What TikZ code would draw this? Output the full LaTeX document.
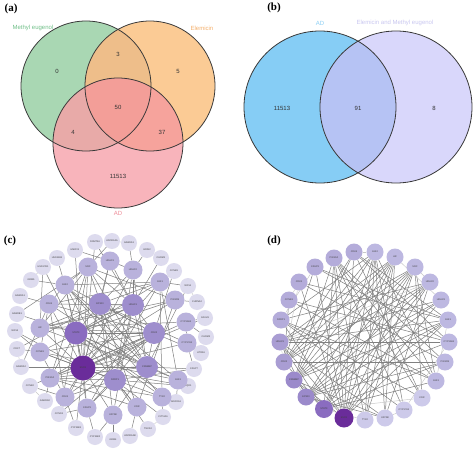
\documentclass[tikz,border=0pt]{standalone}
\usepackage{fontspec}
\newfontfamily\lab{Liberation Sans}
\newfontfamily\pan{Liberation Serif}
\usetikzlibrary{backgrounds}
\pgfdeclarelayer{bottom}
\pgfsetlayers{bottom,background,main}
\definecolor{rG}{HTML}{A9D7B3}
\definecolor{rO}{HTML}{FBCB95}
\definecolor{rP}{HTML}{F8B4BB}
\definecolor{rGO}{HTML}{EEBE8A}
\definecolor{rGP}{HTML}{E8AAA8}
\definecolor{rOP}{HTML}{F6A39C}
\definecolor{rGOP}{HTML}{F39E98}
\definecolor{vb}{HTML}{86CDF5}
\definecolor{vl}{HTML}{D9D7FB}
\definecolor{vbl}{HTML}{B6C3F4}
\definecolor{tg}{HTML}{72C08A}
\definecolor{to}{HTML}{F4B06C}
\definecolor{tp}{HTML}{EE8C98}
\definecolor{tb}{HTML}{8CCFF5}
\definecolor{tl}{HTML}{C9C7F0}
\definecolor{nOut}{HTML}{DDDBEE}
\definecolor{nIn}{HTML}{B9B2DC}
\definecolor{nCore}{HTML}{9E8ECD}
\definecolor{nStat}{HTML}{8A6CC0}
\definecolor{nEsr}{HTML}{6A2C9A}
\definecolor{dA}{HTML}{B4ACDA}
\definecolor{dB}{HTML}{BDB8E1}
\definecolor{dC}{HTML}{CDCAEA}
\definecolor{dD}{HTML}{A99DD3}
\definecolor{dE}{HTML}{9B8ACB}
\tikzset{
  panlab/.style={font=\pan\bfseries\fontsize{11}{11}\selectfont, inner sep=0pt},
  vnum/.style={font=\lab\fontsize{6}{6}\selectfont, text=black!80, inner sep=0pt},
  vtxt/.style={font=\lab\fontsize{6}{6}\selectfont, inner sep=0pt},
  vline/.style={draw=black!78, line width=0.8pt},
  gene/.style={circle, inner sep=0pt, font=\lab\fontsize{2.4}{2.4}\selectfont, text=black!75},
  gOut/.style={gene, fill=nOut, minimum size=16pt},
  gIn/.style={gene, fill=nIn, minimum size=19pt},
  gCore/.style={gene, fill=nCore, minimum size=22pt},
  ed/.style={draw=black!50, line width=0.5pt},
  edl/.style={draw=black!22, line width=0.45pt},
}
\begin{document}
\begin{tikzpicture}[x=1pt,y=-1pt]
\useasboundingbox (0,0) rectangle (474,452);
\begin{pgfonlayer}{bottom}
\fill[white] (0,0) rectangle (474,452);
\end{pgfonlayer}

% ---------------- (a) ----------------
\node[panlab] (la) at (11,9) {(a)};
\def\cG{(86,86) circle[radius=65pt]}
\def\cO{(150,86) circle[radius=65pt]}
\def\cP{(118,143) circle[radius=65pt]}
\fill[rG] \cG;
\fill[rO] \cO;
\fill[rP] \cP;
\begin{scope}\clip \cG; \fill[rGO] \cO; \end{scope}
\begin{scope}\clip \cG; \fill[rGP] \cP; \end{scope}
\begin{scope}\clip \cO; \fill[rOP] \cP; \end{scope}
\begin{scope}\clip \cG; \clip \cO; \fill[rGOP] \cP; \end{scope}
\draw[vline] \cG;
\draw[vline] \cO;
\draw[vline] \cP;
\node[vtxt, text=tg] (tme) at (33,28) {Methyl eugenol};
\node[vtxt, text=to] (tel) at (202,28) {Elemicin};
\node[vtxt, text=tp] (tad) at (118,213) {AD};
\node[vnum] (n0) at (57,71) {0};
\node[vnum] (n3) at (118,54) {3};
\node[vnum] (n5) at (178,71) {5};
\node[vnum] (n50) at (118,107) {50};
\node[vnum] (n4) at (73,132) {4};
\node[vnum] (n37) at (162,132) {37};
\node[vnum] (n11513) at (118,176) {11513};

% ---------------- (b) ----------------
\node[panlab] (lb) at (274,8) {(b)};
\fill[vb] (320,107) circle[radius=76pt];
\fill[vl] (396,107) circle[radius=76pt];
\begin{scope}
  \clip (320,107) circle[radius=76pt];
  \fill[vbl] (396,107) circle[radius=76pt];
\end{scope}
\draw[vline] (320,107) circle[radius=76pt];
\draw[vline] (396,107) circle[radius=76pt];
\node[vtxt, text=tb] (tbad) at (320,23) {AD};
\node[vtxt, text=tl] (tbem) at (395,23) {Elemicin and Methyl eugenol};
\node[vnum] (m1) at (282,108) {11513};
\node[vnum] (m2) at (358,108) {91};
\node[vnum] (m3) at (434,108) {8};

% ---------------- (c) ----------------
\node[panlab] (lc) at (10,241) {(c)};
\foreach \n/\x/\y in {HSD11B1/57/258, HMOX1/75/250, DNMT3A/95/242, ADORA2A/112/241,
  GABRA3/129/243, GRIN2/147/250, CHRM1/161/258, CCNB1/174/271, NOS1/188/286,
  CHRNA2/197/302, CALM1/205/318, CHRM3/206/337, HTR2A/201/353, CASP7/194/369,
  NQO1/188/386, ADORA1/176/402, CYP2A6/163/417, TNKS2/148/429, ADORA2B/130/436,
  GRM4/113/440, CYP11B2/95/437, CYP11B1/76/428, CCND1/59/414, GABRG2/45/401,
  CCNE2/30/386, GABRA2/21/367, CDC7/17/349, NOS3/15/331, GABRB1/17/314,
  GABRA1/20/296, GRM5/31/280, HSD17B1/43/267}
  \node[gOut] (c\n) at (\x,\y) {\n};
\foreach \n/\x/\y in {SRC/88/267, HDAC3/110/261, HDAC2/133/270, JAK1/160/282,
  PIK3CB/175/300, CYP19A1/186/322, CYP17A1/187/343, JAK3/178/380, TYK2/162/397,
  KDR/137/407, KAT2B/113/415, CASP3/87/408, CDK1/65/397, PIK3CA/50/378,
  CCNE1/40/352, AR/40/328, CDK4/49/304, JAK2/65/285}
  \node[gIn] (c\n) at (\x,\y) {\n};
\foreach \n/\x/\y in {EP300/100/304, HDAC1/133/305, CDK2/154/333, CREBBP/147/367,
  PARP1/115/380}
  \node[gCore] (c\n) at (\x,\y) {\n};
\node[gCore, fill=nStat, minimum size=23pt] (cSTAT3) at (76,333) {STAT3};
\node[gCore, fill=nEsr, minimum size=25pt] (cESR1) at (83,368) {ESR1};

\begin{pgfonlayer}{background}
\foreach \a/\b in {ESR1/STAT3, ESR1/EP300, ESR1/HDAC1, ESR1/CDK2, ESR1/CREBBP,
  ESR1/PARP1, ESR1/JAK2, ESR1/SRC, ESR1/AR, ESR1/CCNE1, ESR1/PIK3CA, ESR1/CDK1,
  ESR1/CASP3, ESR1/KAT2B, ESR1/CYP19A1, ESR1/CYP17A1, ESR1/HDAC2, ESR1/HDAC3,
  ESR1/CDK4, ESR1/JAK1, ESR1/CCND1, ESR1/NOS3, ESR1/NQO1, ESR1/HMOX1, ESR1/CYP11B1,
  ESR1/CALM1, ESR1/DNMT3A, ESR1/TYK2,
  STAT3/EP300, STAT3/HDAC1, STAT3/CDK2, STAT3/CREBBP, STAT3/JAK1, STAT3/JAK2,
  STAT3/JAK3, STAT3/TYK2, STAT3/SRC, STAT3/PIK3CA, STAT3/PIK3CB, STAT3/KDR,
  STAT3/CCND1, STAT3/HSD17B1, STAT3/CASP3, STAT3/ADORA1, STAT3/GABRB1,
  EP300/HDAC1, EP300/CREBBP, EP300/HDAC2, EP300/HDAC3, EP300/KAT2B, EP300/AR,
  EP300/CDK2, EP300/PARP1, EP300/JAK1, EP300/CDC7, EP300/CYP17A1,
  HDAC1/HDAC2, HDAC1/HDAC3, HDAC1/CREBBP, HDAC1/CDK2, HDAC1/SRC, HDAC1/AR,
  HDAC1/CDK4, HDAC1/DNMT3A, HDAC1/PARP1, HDAC1/KAT2B, HDAC1/CCNE1, HDAC1/CHRM1,
  CDK2/CCNE1, CDK2/CDK1, CDK2/CDK4, CDK2/CCND1, CDK2/CCNE2, CDK2/CASP3,
  CDK2/CCNB1, CDK2/CREBBP, CDK2/PIK3CA, CDK2/JAK2, CDK2/HTR2A, CDK2/AR,
  CREBBP/KAT2B, CREBBP/HDAC2, CREBBP/JAK2, CREBBP/PIK3CA, CREBBP/AR, CREBBP/SRC,
  CREBBP/CASP7, CREBBP/JAK3, CREBBP/CDK4, CREBBP/NOS1, CREBBP/GABRA2,
  PARP1/CASP3, PARP1/CASP7, PARP1/CDK1, PARP1/JAK2, PARP1/KDR, PARP1/NQO1,
  PARP1/PIK3CA, PARP1/CYP2A6, PARP1/TNKS2, PARP1/HDAC2, PARP1/CCNE1,
  JAK2/GRM5, SRC/ADORA2A, SRC/GABRB1, CDK4/GABRA2, AR/HSD17B1, PIK3CA/GABRG2,
  CDK1/CYP11B1, CASP3/CYP11B2, KAT2B/GRM4, KDR/ADORA2B, TYK2/CYP2A6,
  JAK3/ADORA1, JAK3/NQO1, CYP17A1/HTR2A, CYP19A1/CHRM3, PIK3CB/CHRNA2,
  JAK1/NOS1, HDAC2/GABRA3, HDAC3/HMOX1, CCNE1/CDC7, CCNE1/NOS3, CDK1/CCND1,
  CASP3/CCND1, JAK2/HSD11B1, HDAC2/GRIN2, CYP19A1/CALM1, CYP17A1/CASP7,
  JAK1/CCNB1, CDK4/GABRA1, CCNE2/CDK1, CYP11B2/KAT2B,
  JAK2/JAK1, JAK2/JAK3, JAK2/TYK2, JAK1/JAK3, JAK1/TYK2, SRC/PIK3CA, SRC/PIK3CB,
  SRC/KDR, PIK3CA/PIK3CB, PIK3CA/KDR, CDK4/CCNE1, CDK1/CCNE1, CDK4/CDK1, AR/SRC,
  AR/PIK3CB, HDAC2/HDAC3, CYP19A1/CYP17A1, CYP19A1/AR, CASP3/JAK1, KDR/PIK3CB,
  TYK2/PIK3CA, CDK4/JAK1, CCNE1/JAK3, JAK2/CDK4, SRC/JAK2}
  \draw[ed] (c\a) -- (c\b);
\foreach \a/\b in {NOS1/CHRNA2, GRIN2/CHRM1, CDC7/GABRA2, ADORA2A/GABRA3,
  CCNB1/JAK1, HSD17B1/GRM5, CYP2A6/TNKS2, GABRG2/CCNE2, CHRM3/HTR2A}
  \draw[edl] (c\a) -- (c\b);
\end{pgfonlayer}

% ---------------- (d) ----------------
\node[panlab] (ld) at (274,241) {(d)};
\foreach \n/\x/\y/\c in {PIK3CA/334/258/dA, CDK4/354/252/dA, JAK2/375/252/dB,
  AR/395/257/dB, SRC/415/267/dB, HDAC2/430/282/dB, HDAC3/441/300/dB,
  JAK1/448/320/dB, CYP19A1/449/342/dB, PIK3CB/445/362/dB, JAK3/436/381/dB,
  KDR/422/398/dC, CYP17A1/404/410/dC, KAT2B/385/418/dC, TYK2/365/420/dC,
  EP300/306/397/dE, CREBBP/294/380/dE, CDK2/284/362/dD,
  HDAC1/280/342/dD, PARP1/281/320/dA, CCNE1/289/300/dA, CDK1/299/282/dA,
  CASP3/315/267/dA}
  \node[gene, fill=\c, minimum size=17pt] (d\n) at (\x,\y) {\n};
\node[gene, fill=nStat, minimum size=18pt] (dSTAT3) at (324,409) {STAT3};
\node[gene, fill=nEsr, minimum size=19pt] (dESR1) at (344,418) {ESR1};

\begin{pgfonlayer}{background}
\foreach \a/\b in {ESR1/PIK3CA, ESR1/JAK2, ESR1/SRC, ESR1/HDAC2, ESR1/HDAC3,
  ESR1/CDK4, ESR1/AR, ESR1/CREBBP, ESR1/HDAC1, ESR1/CDK1, ESR1/CASP3, ESR1/PARP1,
  ESR1/JAK1,
  STAT3/JAK2, STAT3/JAK1, STAT3/JAK3, STAT3/SRC, STAT3/HDAC1,
  STAT3/CREBBP, STAT3/PIK3CA, STAT3/AR, STAT3/HDAC2, STAT3/CDK2, STAT3/PIK3CB,
  EP300/HDAC1, EP300/HDAC2, EP300/HDAC3, EP300/KAT2B, EP300/AR, EP300/JAK1,
  EP300/SRC, EP300/CYP19A1, EP300/PIK3CB,
  CREBBP/HDAC2, CREBBP/HDAC3, CREBBP/KAT2B, CREBBP/JAK2, CREBBP/AR, CREBBP/CDK4,
  CREBBP/PIK3CA, CREBBP/SRC, CREBBP/JAK1,
  CDK2/CCNE1, CDK2/CDK4, CDK2/CASP3, CDK2/HDAC2, CDK2/JAK2, CDK2/SRC,
  CDK2/PIK3CB, CDK2/AR,
  HDAC1/HDAC3, HDAC1/SRC, HDAC1/AR, HDAC1/JAK1, HDAC1/CYP19A1, HDAC1/KAT2B,
  PARP1/HDAC2, PARP1/JAK2, PARP1/CYP17A1, PARP1/JAK3, PARP1/KDR,
  PIK3CA/KDR, PIK3CA/PIK3CB, PIK3CA/JAK3, PIK3CA/CYP17A1, PIK3CA/TYK2,
  CDK4/CYP19A1, CDK4/JAK1, CDK4/KDR,
  JAK2/TYK2, JAK2/KAT2B, JAK2/CYP17A1, JAK2/JAK3,
  SRC/KDR, SRC/JAK3, SRC/TYK2,
  CASP3/JAK1, CASP3/CYP19A1, CDK1/JAK1, CDK1/PIK3CB, CCNE1/JAK3, CCNE1/CYP19A1,
  AR/KAT2B, AR/TYK2, HDAC2/KAT2B}
  \draw[ed] (d\a) -- (d\b);
\foreach \a/\b in {STAT3/TYK2, STAT3/KDR, CDK2/CDK1, PARP1/CASP3, HDAC1/HDAC2,
  CCNE1/CDK1, CDK4/JAK2, SRC/HDAC2, JAK1/JAK3, CYP19A1/CYP17A1, EP300/CREBBP,
  HDAC1/CDK2, AR/HDAC3, KAT2B/CYP17A1}
  \draw[edl] (d\a) -- (d\b);
\end{pgfonlayer}
\end{tikzpicture}
\end{document}
